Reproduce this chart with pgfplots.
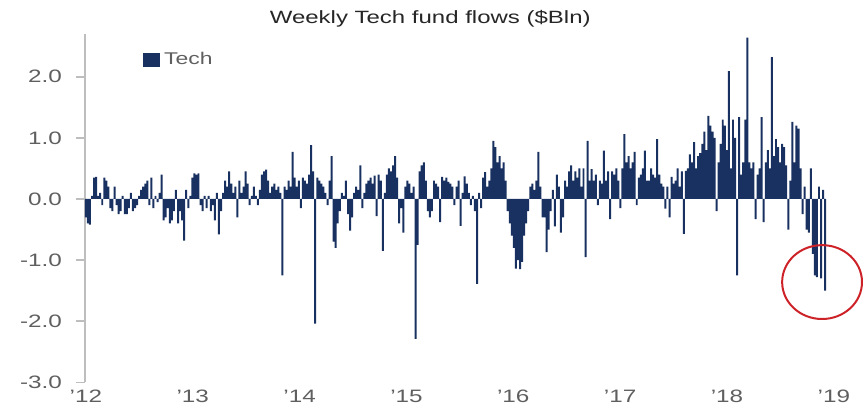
\documentclass[border=0pt]{standalone}
\usepackage{fontspec}
\setmainfont{Liberation Sans}[FakeStretch=1.35]
\usepackage{pgfplots}
\pgfplotsset{compat=1.18}
\usepackage{pgfplotstable}

\definecolor{navy}{RGB}{24,49,96}
\definecolor{tickgray}{RGB}{95,95,95}
\definecolor{axisgray}{RGB}{190,190,190}
\definecolor{circred}{RGB}{205,35,40}

% weekly flows, $bn, Jan 2012 .. Nov 2018 (one row per week)
\pgfplotstableread{
v
-0.30
-0.40
-0.42
0.05
0.35
0.36
0.05
0.10
-0.10
0.35
0.30
0.20
-0.15
-0.20
0.20
-0.10
-0.25
-0.20
0.05
-0.25
-0.25
-0.15
0.10
-0.20
-0.15
-0.10
0.05
0.15
0.20
0.25
0.30
-0.10
0.35
-0.15
0.05
-0.05
0.10
0.40
-0.35
-0.30
-0.15
-0.40
-0.35
-0.20
0.15
-0.40
-0.20
-0.35
-0.68
0.15
-0.15
0.05
0.35
0.42
0.40
0.42
-0.10
-0.20
0.05
-0.15
0.05
-0.20
-0.10
-0.35
0.10
-0.58
-0.20
0.10
0.30
0.20
0.45
0.25
0.10
0.20
-0.30
0.30
0.10
0.20
0.45
0.25
-0.10
0.05
0.20
0.05
-0.10
0.15
0.40
0.45
0.48
0.30
0.10
0.20
0.25
0.15
0.20
0.10
-1.25
0.20
0.15
0.30
0.20
0.77
0.35
0.20
0.30
-0.15
0.35
0.30
0.25
0.40
0.88
0.45
-2.04
0.35
0.30
0.25
0.20
0.10
-0.10
0.30
0.70
-0.70
-0.80
-0.40
-0.20
0.10
0.05
0.30
-0.25
-0.52
-0.30
0.10
0.20
0.15
0.55
-0.15
0.10
0.25
0.30
0.35
0.25
0.38
-0.28
0.40
0.30
-0.85
0.10
0.40
0.50
0.45
0.55
0.70
0.35
-0.40
-0.15
-0.55
0.20
0.30
0.25
0.10
0.20
-2.29
-0.75
0.45
0.55
0.60
0.30
-0.20
-0.30
-0.20
0.30
0.25
0.20
-0.38
0.36
0.30
0.35
0.28
0.25
0.20
-0.10
0.20
0.30
-0.44
0.10
0.37
0.25
0.10
-0.10
0.05
-0.20
-1.39
0.10
-0.15
0.35
0.44
0.20
0.30
0.50
0.95
0.85
0.60
0.70
0.50
0.60
0.30
-0.20
-0.40
-0.60
-0.80
-1.14
-1.00
-1.15
-1.03
-0.60
-0.40
-0.20
0.20
0.25
0.15
0.30
0.77
0.20
-0.30
-0.30
-0.87
-0.50
-0.20
0.15
-0.45
0.40
0.20
-0.55
-0.30
0.30
0.20
0.45
0.55
0.30
0.45
0.35
0.50
0.20
0.50
-0.95
0.95
0.30
0.49
0.30
0.40
-0.10
0.30
0.25
0.79
0.30
0.45
-0.33
0.45
0.40
0.50
0.30
-0.15
0.50
1.06
0.60
0.70
0.50
0.60
0.77
-0.10
0.35
0.40
0.50
0.79
0.30
0.30
0.50
0.40
0.35
0.98
0.40
0.25
0.20
-0.16
0.20
-0.30
0.36
0.25
0.30
0.50
0.20
0.45
-0.57
0.46
0.50
0.73
0.60
0.93
0.50
0.70
0.75
0.90
1.10
0.80
1.36
1.20
1.10
1.00
-0.20
0.60
0.90
1.30
1.20
0.80
2.09
0.50
1.30
1.00
-1.25
1.34
0.40
0.60
1.30
2.64
0.60
0.50
0.60
-0.33
0.40
0.50
1.34
-0.38
0.60
0.80
0.50
2.32
0.70
0.98
0.85
0.60
0.90
0.85
0.55
-0.50
0.30
1.26
0.60
1.20
1.15
0.50
-0.25
0.20
-0.50
-0.55
0.50
-0.90
-1.25
-1.28
0.20
-1.30
0.15
-1.50
}\flows

\begin{document}
\begin{tikzpicture}
\begin{axis}[
    at={(0,0)}, anchor=south west,
    scale only axis,
    width=378pt, height=174.5pt,
    xmin=-0.5, xmax=368,
    ymin=-3, ymax=2.7,
    axis lines*=left,
    x axis line style={draw=none},
    y axis line style={axisgray, line width=0.8pt},
    xtick={0,52.18,104.36,156.54,208.72,260.9,313.08,365.26},
    xticklabels={'12,'13,'14,'15,'16,'17,'18,'19},
    xtick style={draw=none},
    ytick={-3,-2,-1,0,1,2},
    ytick style={axisgray, line width=0.8pt},
    tick align=outside,
    major tick length=4.5pt,
    /pgf/number format/assume math mode=true,
    yticklabel={\pgfmathprintnumber[fixed,fixed zerofill,precision=1]{\tick}},
    ticklabel style={font=\fontsize{9pt}{10.5pt}\selectfont, text=tickgray},
    xticklabel style={yshift=4pt},
    yticklabel style={xshift=-3.5pt},
    legend style={at={(0.0767,0.925)}, anchor=west, draw=none, fill=none,
        inner sep=0pt, font=\fontsize{8.5pt}{10pt}\selectfont, text=tickgray},
    legend cell align=left,
    clip=false,
]
\addplot[ybar, bar width=0.97, fill=navy, draw=none, bar shift=0pt,
    legend image code/.code={\fill[navy] (0pt,-3.5pt) rectangle (8.5pt,3.5pt);}]
    table[x expr=\coordindex, y=v] {\flows};
\addlegendentry{Tech}
\draw[circred, line width=1pt] (axis cs:359.5,-1.36) ellipse [x radius=20pt, y radius=18.5pt];
\end{axis}
\node[font=\fontsize{8.9pt}{10.5pt}\selectfont, text=black!85] at (173pt,182pt) {Weekly Tech fund flows (\$Bln)};
\path[use as bounding box] (-42.5pt,-13pt) rectangle (389pt,191.5pt);
\end{tikzpicture}
\end{document}
